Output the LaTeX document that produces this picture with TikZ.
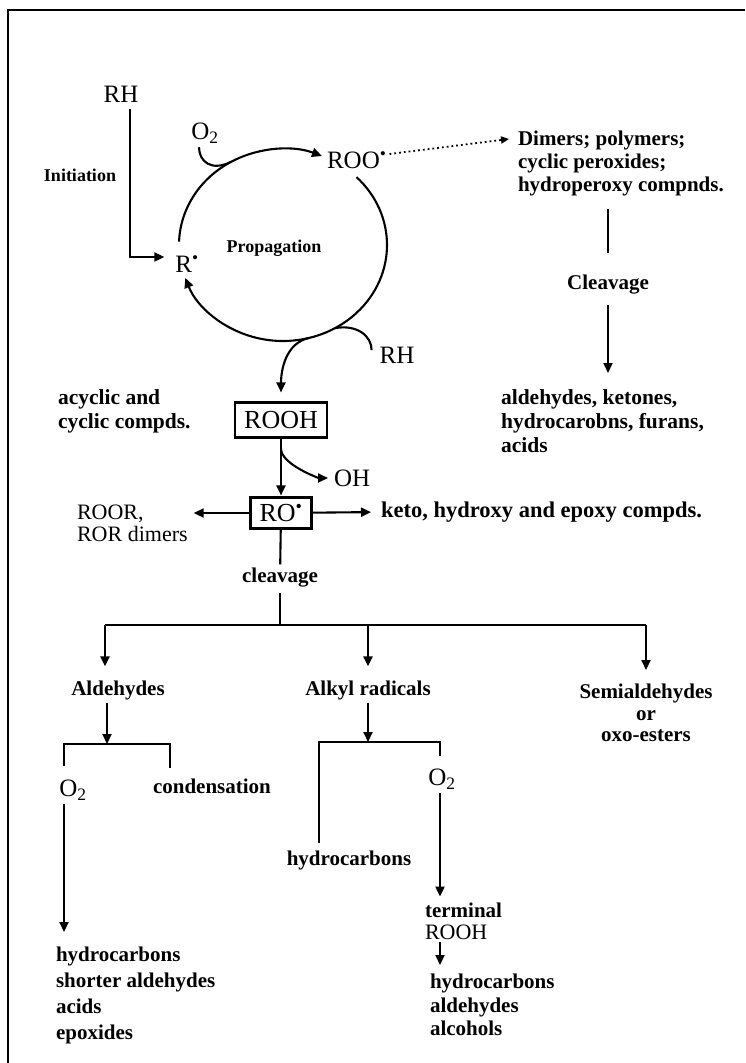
\documentclass[tikz,border=0pt]{standalone}
\usepackage{fontspec}
\setmainfont{Liberation Serif}
\usetikzlibrary{arrows.meta,positioning,calc}

\begin{document}
\begin{tikzpicture}[
    x=1pt, y=-1pt,
    line width=2.1pt,
    chem/.style={inner sep=0pt, font=\fontsize{25}{27}\selectfont},
    lbl/.style={inner sep=0pt, align=left, font=\bfseries\fontsize{21}{23}\selectfont},
    tag/.style={inner sep=0pt, font=\bfseries\fontsize{18}{20}\selectfont},
    box/.style={chem, draw, font=\fontsize{26}{28}\selectfont, inner xsep=9pt, minimum height=35pt},
    arrow/.style={-{Triangle[length=10pt,width=9pt]}},
    dots/.style={dash pattern=on 1.8pt off 3pt, -{Triangle[length=8pt,width=7pt]}},
    bar/.style={line width=2.8pt}
]
\useasboundingbox (0,0) rectangle (745,1063);
\draw[line width=2.2pt] (8,1063) -- (8,10) -- (745,10);

% initiation and the propagation cycle
\node[chem] (rh1) at (121,94) {RH};
\node[tag] (init) at (80,175) {Initiation};
\node[chem] (r) at (187,264) {R\textsuperscript{•}};
\node[tag] (prop) at (274,248) {Propagation};
\node[chem] (o2a) at (205,133) {O\textsubscript{2}};
\node[chem, anchor=west] (roo) at (326,160) {ROO\textsuperscript{•}};
\node[chem] (rh2) at (397,355) {RH};
\coordinate (c) at (283,245);

\draw[arrow, shorten <=6pt, shorten >=10pt] ([xshift=9pt]rh1.south) |- ([yshift=7pt]r.west);
\draw[arrow] (c) ++(-178:104 and 96) arc[start angle=-178, end angle=-68, x radius=104, y radius=96];
\draw[arrow] (c) ++(-45:104 and 96) arc[start angle=-45, end angle=160, x radius=104, y radius=96];
\path (c) ++(-120:104 and 96) coordinate (jo2)
      (c) ++(75:104 and 96) coordinate (jrooh)
      (c) ++(60:104 and 96) coordinate (jrh);
\draw (o2a.south) ++(-6,3) .. controls +(0,14) and +(-20,10) .. (jo2);
\draw (jrh) .. controls +(22,-4) and +(0,-14) .. ([xshift=-7pt,yshift=5pt]rh2.west);

% side products of the peroxy radical
\node[lbl, anchor=north west] (dim) at (517,130) {Dimers; polymers;\\cyclic peroxides;\\hydroperoxy compnds.};
\node[lbl] (clv2) at (608,285) {Cleavage};
\node[lbl, anchor=north west, font=\bfseries\fontsize{21.5}{24}\selectfont] (ald2) at (500,389) {aldehydes, ketones,\\hydrocarobns, furans,\\acids};
\draw[dots, line width=1.8pt] ([xshift=2pt,yshift=6pt]roo.east) -- ([xshift=-8pt,yshift=-9pt]dim.north west);
\draw[shorten <=12pt, shorten >=21pt] (dim.south -| clv2) -- (clv2);
\draw[arrow, shorten <=9pt, shorten >=16pt] (clv2) -- (ald2.north -| clv2);

% hydroperoxide and alkoxy radical
\node[lbl, anchor=north west, font=\bfseries\fontsize{21.5}{24}\selectfont] (acyc) at (57,389) {acyclic and\\cyclic compds.};
\node[box] (rooh) at (281,420) {ROOH};
\node[chem, anchor=west] (oh) at (333,478) {OH};
\node[box, minimum height=31pt] (ro) at (281,513) {RO\textsuperscript{•}};
\node[chem, anchor=north west, align=left, font=\fontsize{22}{22}\selectfont] (roor) at (76,504) {ROOR,\\ROR dimers};
\node[lbl, anchor=west, font=\bfseries\fontsize{22.5}{24}\selectfont] (keto) at (380,512) {keto, hydroxy and epoxy compds.};
\node[lbl] (clv) at (280,578) {cleavage};

\draw[arrow, shorten >=9pt] (jrooh) .. controls +(-25,5) and +(0,-30) .. (rooh.north);
\draw[arrow, shorten >=1pt] (rooh) -- (ro);
\draw[arrow, shorten >=5pt] ([yshift=-10pt]rooh.south) .. controls +(0,16) and +(-14,0) .. (oh.west);
\draw[arrow, shorten >=5pt] (ro) -- (ro -| roor.east);
\draw[arrow, shorten >=9pt] (ro) -- (keto.west);
\draw[shorten >=3pt] (ro) -- (clv);

% products of cleavage
\coordinate (barL) at (105,625);
\node[lbl] (ald1) at (118,690) {Aldehydes};
\node[lbl] (alk) at (368,690) {Alkyl radicals};
\node[lbl, align=center, anchor=north, font=\bfseries\fontsize{21}{21.5}\selectfont] (semi) at (646,683) {Semialdehydes\\or\\oxo-esters};
\draw[shorten <=4pt] (clv) -- (clv |- barL);
\draw[bar] (barL) -- (barL -| semi);
\draw[arrow, shorten >=13pt] (barL) -- (barL |- ald1.north);
\draw[arrow, shorten >=13pt] (alk |- barL) -- (alk.north);
\draw[arrow, shorten >=13pt] (semi |- barL) -- (semi.north);

% aldehydes branch
\coordinate (b1l) at (64,744);
\coordinate (b1r) at (170,744);
\coordinate (b1m) at (107,744);
\node[chem] (o2b) at (73,790) {O\textsubscript{2}};
\node[lbl] (cond) at (212,786) {condensation};
\node[lbl, anchor=north west, font=\bfseries\fontsize{21}{26}\selectfont] (lst1) at (55,946) {hydrocarbons\\shorter aldehydes\\acids\\epoxides};
\draw[arrow, shorten <=2pt] (ald1.south -| b1m) -- (b1m);
\draw ($(b1l)+(0,22)$) -- (b1l) -- (b1r) -- ($(b1r)+(0,24)$);
\draw[arrow, shorten <=3pt, shorten >=14pt] (o2b.south -| b1l) -- (lst1.north -| b1l);

% alkyl radicals branch
\coordinate (b2l) at (319,742);
\coordinate (b2r) at (440,742);
\node[lbl] (hyd2) at (349,860) {hydrocarbons};
\node[chem] (o2c) at (442,779) {O\textsubscript{2}};
\node[lbl, anchor=west] (term) at (424,910) {terminal};
\node[chem, anchor=west, font=\fontsize{22}{22}\selectfont] (rooh2) at (424,932) {ROOH};
\node[lbl, anchor=north west, font=\bfseries\fontsize{21}{23.5}\selectfont] (lst2) at (429,973) {hydrocarbons\\aldehydes\\alcohols};
\draw[arrow, shorten <=2pt] (alk) -- (alk |- b2l);
\draw ($(b2l)+(0,101)$) -- (b2l) -- (b2r) -- ($(b2r)+(0,14)$);
\draw[arrow, shorten <=3pt, shorten >=5pt] (o2c.south -| b2r) -- (term.north -| b2r);
\draw[arrow, shorten <=2pt, shorten >=8pt] (rooh2.south -| b2r) -- (lst2.north -| b2r);

\end{tikzpicture}
\end{document}
